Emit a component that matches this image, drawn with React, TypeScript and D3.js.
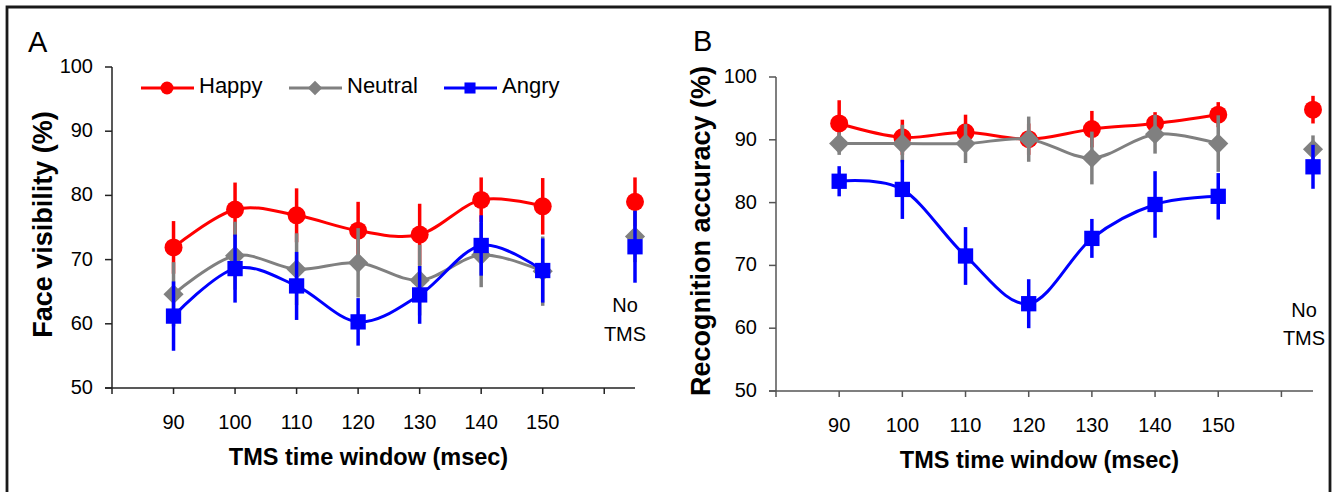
import React from "react";
import * as d3 from "d3";

// ---------- data ----------
const timeWindows = [90, 100, 110, 120, 130, 140, 150];
const xTickValues = [80, 90, 100, 110, 120, 130, 140, 150, 160];
const xTickLabels = ["", "90", "100", "110", "120", "130", "140", "150", ""];
const yTickValues = [50, 60, 70, 80, 90, 100];
const noTmsPos = 165;
const noTmsLabel = ["No", "TMS"];
const seriesNames = ["Happy", "Neutral", "Angry"];
const seriesColors = ["#ff0000", "#808080", "#0000ff"];
const seriesMarkers = ["circle", "diamond", "square"];

// Panel A: Face visibility (%)
const happyA = [71.9, 77.8, 76.9, 74.5, 73.9, 79.3, 78.3];
const happyAErr = [4.1, 4.2, 4.2, 4.5, 4.8, 3.5, 4.4];
const neutralA = [64.6, 70.6, 68.5, 69.5, 66.8, 70.7, 68.2];
const neutralAErr = [5.0, 5.3, 5.6, 5.4, 5.5, 5.0, 5.4];
const angryA = [61.2, 68.6, 65.9, 60.3, 64.5, 72.2, 68.3];
const angryAErr = [5.4, 5.3, 5.3, 3.7, 4.5, 4.7, 5.0];
const noTmsA = [79.0, 73.6, 72.0];
const noTmsAErr = [3.8, 4.0, 5.6];

// Panel B: Recognition accuracy (%)
const happyB = [92.6, 90.4, 91.2, 90.1, 91.7, 92.6, 94.0];
const happyBErr = [3.7, 2.8, 2.8, 2.5, 2.9, 1.8, 2.0];
const neutralB = [89.4, 89.4, 89.4, 90.1, 87.1, 90.9, 89.4];
const neutralBErr = [1.8, 3.0, 3.1, 3.6, 4.2, 3.1, 4.5];
const angryB = [83.4, 82.1, 71.5, 63.9, 74.3, 79.7, 81.0];
const angryBErr = [2.4, 4.7, 4.6, 3.9, 3.1, 5.3, 3.7];
const noTmsB = [94.8, 88.5, 85.7];
const noTmsBErr = [2.2, 2.2, 3.5];

const FONT = "'Liberation Sans', Arial, Helvetica, sans-serif";

type PanelCfg = {
  letter: string;
  letterX: number;
  letterY: number;
  yTitle: string;
  yTitleX: number;
  x0: number;
  x1: number;
  yTop: number;
  yBottom: number;
  axisColor: string;
  values: number[][];
  errs: number[][];
  noTms: number[];
  noTmsErr: number[];
  noTmsTextX: number;
  legend: boolean;
};

const panels: PanelCfg[] = [
  {
    letter: "A", letterX: 28, letterY: 52,
    yTitle: "Face visibility (%)", yTitleX: 52,
    x0: 112, x1: 635, yTop: 67, yBottom: 388, axisColor: "#222",
    values: [happyA, neutralA, angryA],
    errs: [happyAErr, neutralAErr, angryAErr],
    noTms: noTmsA, noTmsErr: noTmsAErr, noTmsTextX: 625, legend: true,
  },
  {
    letter: "B", letterX: 693, letterY: 51,
    yTitle: "Recognition accuracy (%)", yTitleX: 710,
    x0: 776, x1: 1313, yTop: 77, yBottom: 391, axisColor: "#555",
    values: [happyB, neutralB, angryB],
    errs: [happyBErr, neutralBErr, angryBErr],
    noTms: noTmsB, noTmsErr: noTmsBErr, noTmsTextX: 1304, legend: false,
  },
];

function Marker({ kind, x, y, color, size }: { kind: string; x: number; y: number; color: string; size: number }) {
  if (kind === "circle") return <circle cx={x} cy={y} r={size} fill={color} />;
  if (kind === "square")
    return <rect x={x - size * 0.85} y={y - size * 0.85} width={size * 1.7} height={size * 1.7} fill={color} />;
  const s = size * 1.12;
  return <path d={`M${x},${y - s}L${x + s},${y}L${x},${y + s}L${x - s},${y}Z`} fill={color} />;
}

function Panel({ cfg }: { cfg: PanelCfg }) {
  const x = d3.scaleLinear().domain([80, 165]).range([cfg.x0, cfg.x1]);
  const y = d3.scaleLinear().domain([50, 100]).range([cfg.yBottom, cfg.yTop]);
  const line = d3
    .line<number>()
    .x((_, i) => x(timeWindows[i]))
    .y((d) => y(d))
    .curve(d3.curveCardinal.tension(0));
  const midX = (cfg.x0 + cfg.x1) / 2 - 5;
  const midY = (cfg.yTop + cfg.yBottom) / 2 - 3;

  return (
    <g fontFamily={FONT}>
      <text x={cfg.letterX} y={cfg.letterY} fontSize={29} fill="#000">{cfg.letter}</text>
      {/* y axis */}
      <line x1={cfg.x0} x2={cfg.x0} y1={cfg.yTop} y2={cfg.yBottom} stroke={cfg.axisColor} strokeWidth={1.5} />
      {yTickValues.map((v) => (
        <g key={"y" + v}>
          <line x1={cfg.x0 - 7} x2={cfg.x0} y1={y(v)} y2={y(v)} stroke={cfg.axisColor} strokeWidth={1.5} />
          <text x={cfg.x0 - 19} y={y(v) + 6} fontSize={20} textAnchor="end" fill="#000">{v}</text>
        </g>
      ))}
      {/* x axis */}
      <line x1={cfg.x0 - 7} x2={cfg.x1} y1={cfg.yBottom} y2={cfg.yBottom} stroke={cfg.axisColor} strokeWidth={1.5} />
      {xTickValues.map((v, i) => (
        <g key={"x" + v}>
          <line x1={x(v)} x2={x(v)} y1={cfg.yBottom} y2={cfg.yBottom + 6} stroke={cfg.axisColor} strokeWidth={1.5} />
          {xTickLabels[i] && (
            <text x={x(v)} y={cfg.yBottom + 41} fontSize={20} textAnchor="middle" fill="#000">{xTickLabels[i]}</text>
          )}
        </g>
      ))}
      <text x={midX} y={cfg.yBottom + 77} fontSize={23.5} fontWeight="bold" textAnchor="middle" fill="#000">
        TMS time window (msec)
      </text>
      <text
        transform={`translate(${cfg.yTitleX},${midY}) rotate(-90)`}
        fontSize={27}
        fontWeight="bold"
        textAnchor="middle"
        fill="#000"
      >
        {cfg.yTitle}
      </text>
      {/* No TMS label */}
      <text x={cfg.noTmsTextX} y={y(61.8)} fontSize={20} textAnchor="middle" fill="#000">{noTmsLabel[0]}</text>
      <text x={cfg.noTmsTextX} y={y(57.3)} fontSize={20} textAnchor="middle" fill="#000">{noTmsLabel[1]}</text>
      {/* series */}
      {cfg.values.map((vals, si) => {
        const color = seriesColors[si];
        const errs = cfg.errs[si];
        return (
          <g key={"s" + si}>
            <path d={line(vals) || ""} fill="none" stroke={color} strokeWidth={3} />
            {vals.map((v, i) => (
              <line
                key={"e" + i}
                x1={x(timeWindows[i])}
                x2={x(timeWindows[i])}
                y1={y(v - errs[i])}
                y2={y(v + errs[i])}
                stroke={color}
                strokeWidth={3.5}
              />
            ))}
            <line
              x1={x(noTmsPos)}
              x2={x(noTmsPos)}
              y1={y(cfg.noTms[si] - cfg.noTmsErr[si])}
              y2={y(cfg.noTms[si] + cfg.noTmsErr[si])}
              stroke={color}
              strokeWidth={3.5}
            />
            {vals.map((v, i) => (
              <Marker key={"m" + i} kind={seriesMarkers[si]} x={x(timeWindows[i])} y={y(v)} color={color} size={9} />
            ))}
            <Marker kind={seriesMarkers[si]} x={x(noTmsPos)} y={y(cfg.noTms[si])} color={color} size={9} />
          </g>
        );
      })}
      {cfg.legend && (
        <g>
          {seriesNames.map((name, i) => {
            const lx = [141, 289, 444][i];
            const ly = 88;
            return (
              <g key={name}>
                <line x1={lx} x2={lx + 53} y1={ly} y2={ly} stroke={seriesColors[i]} strokeWidth={3} />
                <Marker kind={seriesMarkers[i]} x={lx + 26} y={ly} color={seriesColors[i]} size={6.5} />
                <text x={lx + 58} y={ly + 5} fontSize={22} fill="#000">{name}</text>
              </g>
            );
          })}
        </g>
      )}
    </g>
  );
}

export default function App() {
  return (
    <svg
      width={1334}
      height={492}
      style={{ position: "absolute", left: 0, top: 0, background: "#fff" }}
    >
      <rect x={0} y={0} width={1334} height={492} fill="#fff" />
      <path d="M7,500V7H1330V500" fill="none" stroke="#1a1a1a" strokeWidth={2.8} />
      {panels.map((p) => (
        <Panel key={p.letter} cfg={p} />
      ))}
    </svg>
  );
}
